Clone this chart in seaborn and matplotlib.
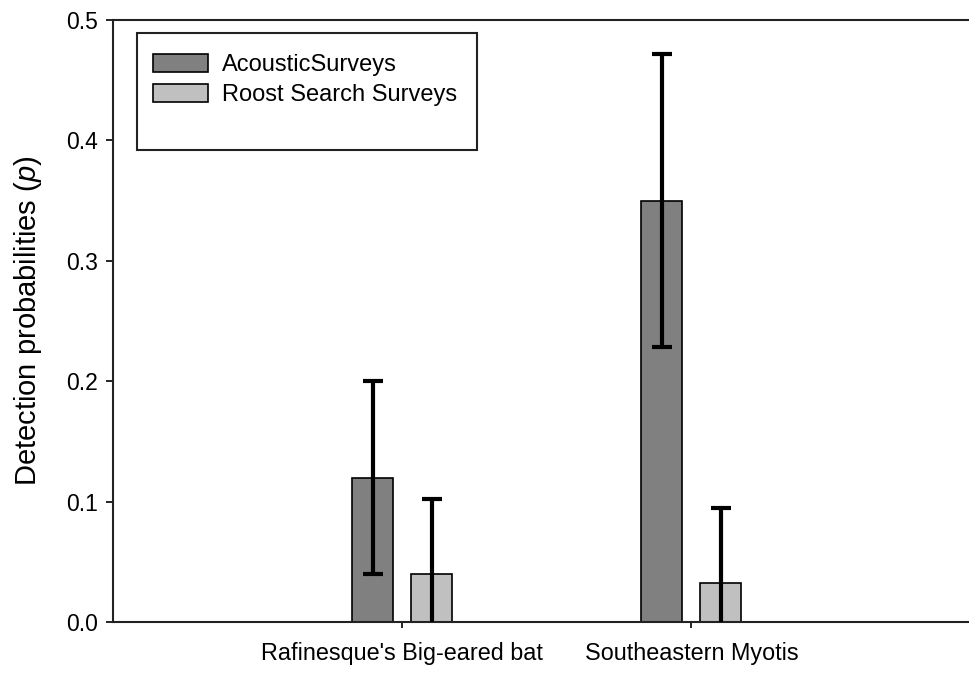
import matplotlib
matplotlib.use("Agg")
import matplotlib.pyplot as plt
import matplotlib.patches as mpatches
import pandas as pd
import seaborn as sns

# data
species = ["Rafinesque's Big-eared bat", "Southeastern Myotis"]
surveys = ["AcousticSurveys", "Roost Search Surveys"]
p_acoustic = [0.12, 0.35]
p_roost = [0.04, 0.032]
se_acoustic = [0.08, 0.122]
se_roost = [0.062, 0.063]
y_ticks = [0.0, 0.1, 0.2, 0.3, 0.4, 0.5]

df = pd.DataFrame({
    "species": species * 2,
    "survey": [surveys[0]] * 2 + [surveys[1]] * 2,
    "p": p_acoustic + p_roost,
})

sns.set_style("white")
plt.rcParams["font.family"] = ["Liberation Sans", "DejaVu Sans"]
plt.rcParams["text.color"] = "black"
plt.rcParams["axes.labelcolor"] = "black"
plt.rcParams["mathtext.fontset"] = "custom"
plt.rcParams["mathtext.it"] = "Liberation Sans:italic"
plt.rcParams["mathtext.rm"] = "Liberation Sans"

fig = plt.figure(figsize=(9.69, 6.75), dpi=100)
ax = fig.add_axes([113 / 969, 53 / 675, 856 / 969, 602 / 675])

palette = {surveys[0]: "#808080", surveys[1]: "#c0c0c0"}
sns.barplot(data=df, x="species", y="p", hue="survey", order=species,
            hue_order=surveys, palette=palette, width=0.408, gap=0.304,
            edgecolor="black", linewidth=1.2, errorbar=None, legend=False, ax=ax)

# error bars at the bar centres
for cont, errs in zip(ax.containers, [se_acoustic, se_roost]):
    xs = [b.get_x() + b.get_width() / 2 for b in cont]
    ys = [b.get_height() for b in cont]
    ax.errorbar(xs, ys, yerr=errs, fmt="none", ecolor="black",
                elinewidth=3, capsize=7.2, capthick=3, zorder=5)

ax.set_xlim(-1.0, 1.96)
ax.set_ylim(0, 0.5)
ax.set_yticks(y_ticks)
ax.set_yticklabels([f"{v:.1f}" for v in y_ticks])
ax.set_xlabel("")
ax.set_ylabel("Detection probabilities ($p$)", fontsize=21, labelpad=16)
ax.tick_params(axis="y", direction="out", length=5, width=1.2, labelsize=16.5,
               left=True, pad=6, colors="black")
ax.tick_params(axis="x", direction="out", length=4.5, width=1.2, labelsize=16.8,
               bottom=True, pad=10, colors="black")

for side in ["left", "bottom", "top"]:
    ax.spines[side].set_color("#222222")
    ax.spines[side].set_linewidth(1.5)
ax.spines["right"].set_visible(False)

# legend box (bigger than its contents, as in the original)
ax.add_patch(mpatches.Rectangle((0.028, 0.784), 0.397, 0.194, transform=ax.transAxes,
                                fill=False, edgecolor="#222222", linewidth=1.5,
                                zorder=6))
handles = [mpatches.Patch(facecolor=palette[s], edgecolor="black", linewidth=1.2)
           for s in surveys]
ax.legend(handles, surveys, loc="upper left", bbox_to_anchor=(0.0467, 0.943),
          frameon=False, fontsize=17, handlelength=2.33, handleheight=0.76,
          handletextpad=0.6, labelspacing=0.34, borderpad=0, borderaxespad=0)

fig.savefig("out.png", dpi=100)
